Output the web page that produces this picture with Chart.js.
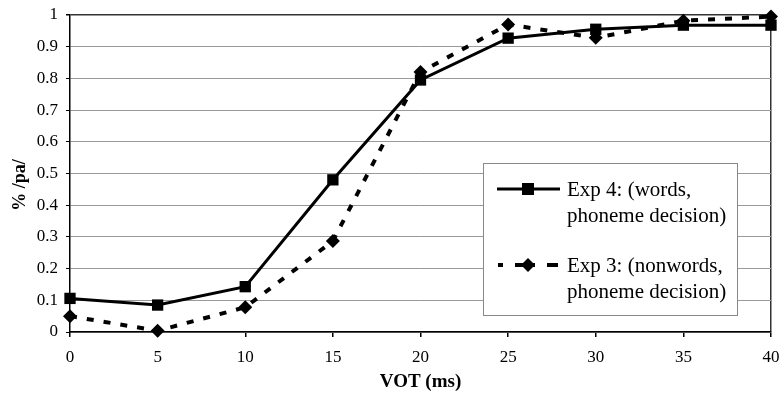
<!DOCTYPE html>
<html>
<head>
<meta charset="utf-8">
<script src="https://cdn.jsdelivr.net/npm/chart.js@4"></script>
<style>
  html, body { margin: 0; padding: 0; background: #fff; }
  #chart { display: block; }
</style>
</head>
<body>
<canvas id="chart" width="783" height="405"></canvas>
<script>
const vot = [0, 5, 10, 15, 20, 25, 30, 35, 40];
const exp4Words = [0.106, 0.085, 0.143, 0.48, 0.795, 0.927, 0.955, 0.968, 0.968];
const exp3Nonwords = [0.05, 0.004, 0.078, 0.287, 0.82, 0.97, 0.928, 0.982, 0.995];
const exp4Label = ["Exp 4: (words,", "phoneme decision)"];
const exp3Label = ["Exp 3: (nonwords,", "phoneme decision)"];
const xTitle = "VOT (ms)";
const yTitle = "% /pa/";

const serif = "'Liberation Serif', 'Times New Roman', serif";
const exp3Dash = [7, 10];

function toPoints(ys) {
  return vot.map((x, i) => ({x, y: ys[i]}));
}

// legend box drawn inside the plot, like the original
const boxLegend = {
  id: "boxLegend",
  afterDatasetsDraw(chart) {
    const ctx = chart.ctx;
    ctx.save();
    ctx.fillStyle = "#fff";
    ctx.fillRect(483, 163, 254, 152);
    ctx.strokeStyle = "#888";
    ctx.lineWidth = 1;
    ctx.strokeRect(483.5, 163.5, 254, 152);

    // exp 4 sample
    ctx.strokeStyle = "#000";
    ctx.lineWidth = 3;
    ctx.setLineDash([]);
    ctx.beginPath();
    ctx.moveTo(497, 189);
    ctx.lineTo(560, 189);
    ctx.stroke();
    ctx.fillStyle = "#000";
    ctx.fillRect(522, 183, 12, 12);

    // exp 3 sample
    ctx.lineWidth = 4;
    ctx.setLineDash([5, 12, 20, 12, 20, 12]);
    ctx.beginPath();
    ctx.moveTo(498, 265);
    ctx.lineTo(558, 265);
    ctx.stroke();
    ctx.setLineDash([]);
    ctx.beginPath();
    ctx.moveTo(528, 258);
    ctx.lineTo(535, 265);
    ctx.lineTo(528, 272);
    ctx.lineTo(521, 265);
    ctx.closePath();
    ctx.fill();

    ctx.font = "21px " + serif;
    ctx.textBaseline = "middle";
    ctx.textAlign = "left";
    ctx.fillText(exp4Label[0], 567, 190);
    ctx.fillText(exp4Label[1], 567, 216);
    ctx.fillText(exp3Label[0], 567, 266);
    ctx.fillText(exp3Label[1], 567, 292);

    // y axis title
    ctx.translate(20, 185);
    ctx.rotate(-Math.PI / 2);
    ctx.textAlign = "center";
    ctx.font = "bold 18px " + serif;
    ctx.fillText(yTitle, 0, 0);
    ctx.restore();
  }
};

new Chart(document.getElementById("chart"), {
  type: "line",
  data: {
    datasets: [
      {
        label: exp4Label.join(" "),
        data: toPoints(exp4Words),
        borderColor: "#000",
        backgroundColor: "#000",
        borderWidth: 3,
        pointStyle: "rect",
        pointRadius: 8,
        pointBorderWidth: 0,
        clip: false
      },
      {
        label: exp3Label.join(" "),
        data: toPoints(exp3Nonwords),
        borderColor: "#000",
        backgroundColor: "#000",
        borderWidth: 4,
        borderDash: exp3Dash,
        pointStyle: "rectRot",
        pointRadius: 7,
        pointBorderWidth: 0,
        clip: false
      }
    ]
  },
  options: {
    responsive: false,
    animation: false,
    layout: { padding: { top: 15, right: 12, left: 0, bottom: 0 } },
    plugins: {
      legend: { display: false },
      tooltip: { enabled: false }
    },
    scales: {
      x: {
        type: "linear",
        min: 0,
        max: 40,
        afterFit(s) {
          s.height = 73;
          s.paddingLeft = 0;
          s.paddingRight = 0;
        },
        ticks: {
          stepSize: 5,
          color: "#000",
          padding: 10,
          font: { family: serif, size: 17 }
        },
        grid: {
          color: ctx => ctx.tick && ctx.tick.value === 40 ? "#333" : "rgba(0,0,0,0)",
          lineWidth: 1.5,
          tickColor: "#000",
          tickLength: 5
        },
        border: { color: "#000", width: 1.5 },
        title: {
          display: true,
          text: xTitle,
          color: "#000",
          font: { family: serif, size: 19, weight: "bold" },
          padding: { top: 0, bottom: 12 }
        }
      },
      y: {
        min: 0,
        max: 1,
        afterFit(s) {
          s.width = 70;
          s.paddingTop = 0;
          s.paddingBottom = 0;
        },
        ticks: {
          stepSize: 0.1,
          color: "#000",
          padding: 8,
          font: { family: serif, size: 17 },
          callback: v => String(+v.toFixed(1))
        },
        grid: {
          color: ctx => ctx.tick && ctx.tick.value === 1 ? "#333" : "#999",
          lineWidth: ctx => ctx.tick && ctx.tick.value === 1 ? 1.5 : 1,
          tickColor: "#000",
          tickLength: 4
        },
        border: { color: "#000", width: 1.5 }
      }
    }
  },
  plugins: [boxLegend]
});
</script>
</body>
</html>
